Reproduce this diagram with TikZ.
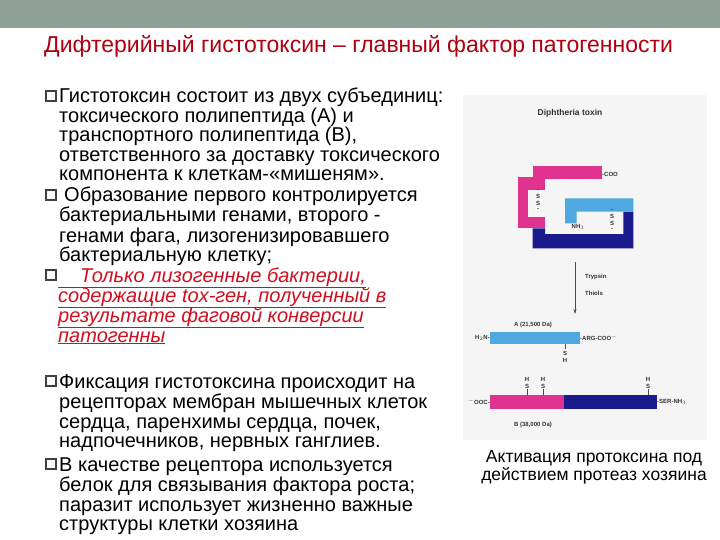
\documentclass[tikz,border=0pt]{standalone}
\usepackage{fontspec}
\usetikzlibrary{arrows.meta}
\setmainfont{Liberation Sans}
\definecolor{band}{HTML}{8FA096}
\definecolor{ttl}{HTML}{B00010}
\definecolor{txtred}{HTML}{D01020}
\definecolor{pinkc}{HTML}{E0338F}
\definecolor{navyc}{HTML}{1A1A8C}
\definecolor{cyanc}{HTML}{4FA8E0}
\definecolor{bul}{HTML}{404040}
\begin{document}
\begin{tikzpicture}[x=1pt,y=-1pt,
  body/.style={anchor=base west,inner sep=0pt,font=\fontsize{20}{20}\selectfont,text=black},
  redl/.style={anchor=base west,inner sep=0pt,font=\fontsize{20}{20}\selectfont\itshape,text=txtred},
  sm/.style={inner sep=0pt,font=\fontsize{6}{7}\selectfont\bfseries,text=black!80},
  bulbox/.style={draw=bul,line width=1.8pt,fill=white,minimum size=9.5pt,inner sep=0pt}]
\useasboundingbox (0,0) rectangle (720,540);
\fill[white] (0,0) rectangle (720,540);
\fill[band] (0,0) rectangle (720,28);
\node[anchor=base west,inner sep=0pt,font=\fontsize{23}{24}\selectfont,text=ttl] (title) at (44,53) {Дифтерийный гистотоксин – главный фактор патогенности};
% bullets
\foreach \y/\n in {97/b1,196/b2,276/b3,382/b4,465/b5}{\node[bulbox] (\n) at (51,\y-1) {};}
\node[body] (l1) at (59,103) {Гистотоксин состоит из двух субъединиц:};
\node[body] (l2) at (59,123) {токсического полипептида (А) и};
\node[body] (l3) at (59,142) {транспортного полипептида (В),};
\node[body] (l4) at (59,162) {ответственного за доставку токсического};
\node[body] (l5) at (59,181) {компонента к клеткам-«мишеням».};
\node[body] (l6) at (64,202) {Образование первого контролируется};
\node[body] (l7) at (59,222) {бактериальными генами, второго -};
\node[body] (l8) at (59,242) {генами фага, лизогенизировавшего};
\node[body] (l9) at (59,261) {бактериальную клетку;};
\node[redl] (r1) at (58,282) {\underline{\hspace{22pt}Только лизогенные бактерии,}};
\node[redl] (r2) at (58,302) {\underline{содержащие tox-ген, полученный в}};
\node[redl] (r3) at (58,322) {\underline{результате фаговой конверсии}};
\node[redl] (r4) at (58,342) {\underline{патогенны}};
\node[body] (m1) at (59,388) {Фиксация гистотоксина происходит на};
\node[body] (m2) at (59,408) {рецепторах мембран мышечных клеток};
\node[body] (m3) at (59,428) {сердца, паренхимы сердца, почек,};
\node[body] (m4) at (59,447) {надпочечников, нервных ганглиев.};
\node[body] (m5) at (59,471) {В качестве рецептора используется};
\node[body] (m6) at (59,491) {белок для связывания фактора роста;};
\node[body] (m7) at (59,511) {паразит использует жизненно важные};
\node[body] (m8) at (59,530) {структуры клетки хозяина};
% figure
\fill[black!4] (463,95) rectangle (707,440);
\node[sm,font=\fontsize{8.5}{9}\selectfont\bfseries] (dt) at (570,113) {Diphtheria toxin};
\fill[pinkc] (533,166) rectangle (602,179.3);
\fill[pinkc] (517.7,177.3) rectangle (545,190);
\fill[pinkc] (517.7,190) rectangle (528.3,216.7);
\fill[pinkc] (517.7,216.7) rectangle (545,228.3);
\fill[navyc] (532.7,228.3) -- (545,228.3) -- (545,234) -- (623.3,234) -- (623.3,211.7) -- (633.3,211.7) -- (633.3,248.3) -- (532.7,248.3) -- cycle;
\fill[cyanc] (565,198.3) -- (633.3,198.3) -- (633.3,211.7) -- (576.7,211.7) -- (576.7,223.3) -- (565,223.3) -- cycle;
\node[sm,anchor=west] (coo) at (602,174) {-COO};
\node[sm] (ss1) at (538,200) {\shortstack{-\\S\\S\\-}};
\node[sm] (nh3) at (578,227) {NH$_3$};
\node[sm] (ss2) at (612,220) {\shortstack{-\\S\\S\\-}};
\coordinate (at) at (575,262);
\coordinate (ab) at (575,314);
\draw[black!70,line width=0.5pt,-{Stealth[length=5pt,width=3pt]}] (at) -- (ab);
\node[sm,anchor=west] (tr) at (585,277) {Trypsin};
\node[sm,anchor=west] (th) at (585,293) {Thiols};
\node[sm] (aa) at (533,325) {A (21,500 Da)};
\fill[cyanc] (490,332) rectangle (580,344);
\node[sm,anchor=east] (h2n) at (490,338) {H$_2$N-};
\node[sm,anchor=west] (arg) at (580,338) {-ARG-COO$^-$};
\coordinate (sht) at (565,344);
\coordinate (shb) at (565,349);
\draw[black!70,line width=0.4pt] (sht) -- (shb);
\node[sm] (sh) at (565,357) {\shortstack{S\\H}};
\fill[pinkc] (490,395) rectangle (564,409);
\fill[navyc] (564,395) rectangle (657,409);
\foreach \x/\n in {527/p1,543/p2,648/p3}{
  \node[sm] (\n) at (\x,383) {\shortstack{H\\S}};
  \coordinate (\n b) at (\x,395);
  \draw[black!70,line width=0.4pt] (\n.south) -- (\n b);}
\node[sm,anchor=east] (ooc) at (490,402) {$^-$OOC-};
\node[sm,anchor=west] (ser) at (657,402) {-SER-NH$_3$};
\node[sm] (bb) at (533,425) {B (38,000 Da)};
\node[inner sep=0pt,font=\fontsize{17.5}{18}\selectfont,align=center] (cap) at (594,467) {Активация протоксина под\\действием протеаз хозяина};
\end{tikzpicture}
\end{document}
